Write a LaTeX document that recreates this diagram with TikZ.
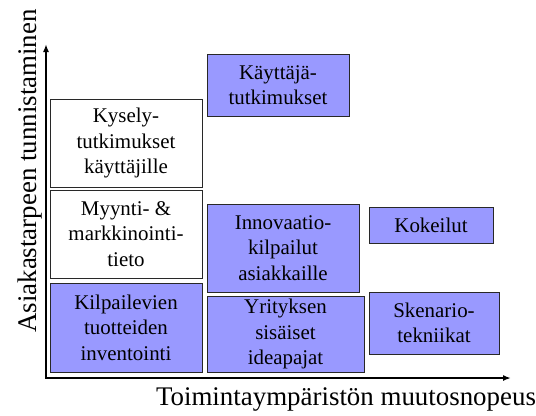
\documentclass[tikz,border=0pt]{standalone}
\usepackage{fontspec}
\setmainfont{Liberation Serif}
\usetikzlibrary{arrows.meta}
\definecolor{boxblue}{RGB}{153,153,255}
\definecolor{boxline}{RGB}{40,40,40}
\tikzset{
  method/.style={draw=boxline, line width=0.9bp, align=center, inner sep=0pt,
    font=\fontsize{21}{25.5}\selectfont},
  plainbox/.style={method, fill=white},
  bluebox/.style={method, fill=boxblue},
  axis/.style={line width=2bp, {Latex[length=8bp,width=6bp]}-{Latex[length=8bp,width=6bp]}},
  axislabel/.style={font=\fontsize{27}{32}\selectfont, inner sep=0pt}
}
\begin{document}
\begin{tikzpicture}[x=1bp, y=-1bp]
  \useasboundingbox (0,0) rectangle (536,415);

  % axes
  \coordinate (origin) at (46,378);
  \coordinate (ytop) at (46,44);
  \coordinate (xend) at (511,378);
  \draw[axis] (ytop) -- (origin) -- (xend);

  \node[axislabel, rotate=90] (ylabel) at (30,171) {Asiakastarpeen tunnistaminen};
  \node[axislabel] (xlabel) at (346,399) {Toimintaympäristön muutosnopeus};

  % methods, left column
  \node[plainbox, minimum width=152bp, minimum height=88bp] (kysely) at (126,143)
    {Kysely-\\tutkimukset\\käyttäjille};
  \node[plainbox, minimum width=152bp, minimum height=88bp] (myynti) at (126,234)
    {Myynti- \&\\markkinointi-\\tieto};
  \node[bluebox, minimum width=152bp, minimum height=89bp] (kilpailevien) at (126,327.5)
    {Kilpailevien\\tuotteiden\\inventointi};

  % methods, middle column
  \node[bluebox, minimum width=142bp, minimum height=62bp] (kayttaja) at (278,85)
    {Käyttäjä-\\tutkimukset};
  \node[bluebox, minimum width=152bp, minimum height=88bp] (innovaatio) at (283,248)
    {Innovaatio-\\kilpailut\\asiakkaille};
  \node[bluebox, minimum width=157bp, minimum height=76bp] (yrityksen) at (285.5,334)
    {Yrityksen\\sisäiset\\ideapajat};

  % methods, right column
  \node[bluebox, minimum width=124bp, minimum height=36bp] (kokeilut) at (431,225)
    {Kokeilut};
  \node[bluebox, minimum width=130bp, minimum height=62bp] (skenario) at (434,323)
    {Skenario-\\tekniikat};
\end{tikzpicture}
\end{document}
